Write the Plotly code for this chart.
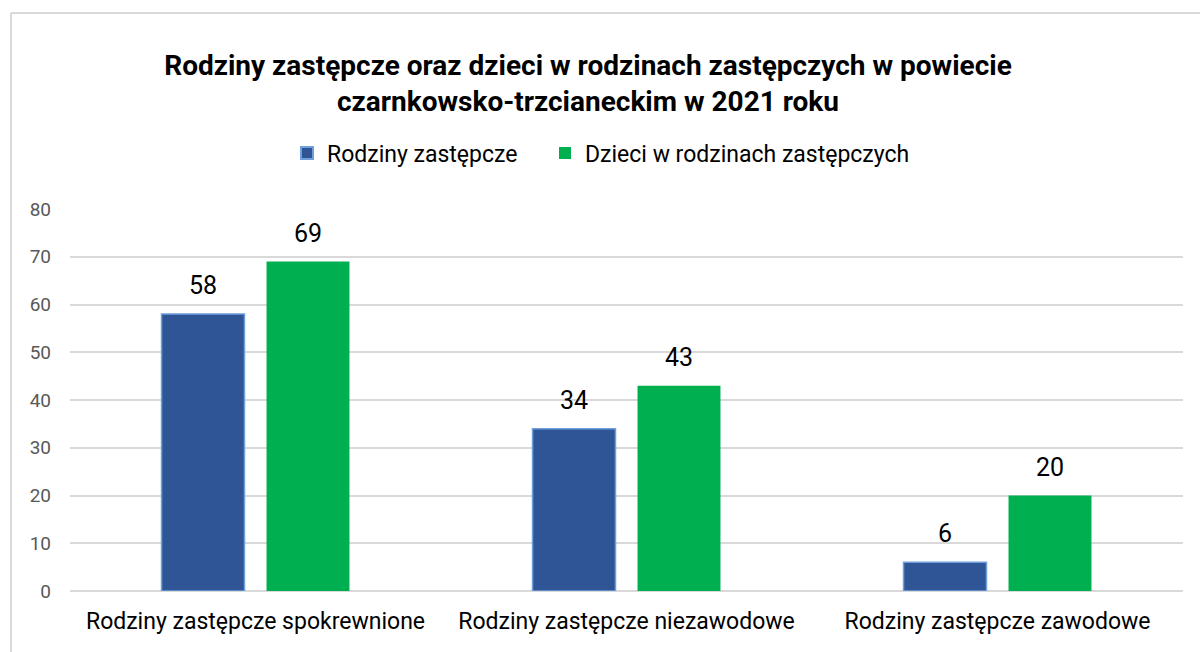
import plotly.graph_objects as go

categories = ["Rodziny zastępcze spokrewnione", "Rodziny zastępcze niezawodowe", "Rodziny zastępcze zawodowe"]
rodziny = [58, 34, 6]
dzieci = [69, 43, 20]
series_names = ["Rodziny zastępcze", "Dzieci w rodzinach zastępczych"]
title_text = "<b>Rodziny zastępcze oraz dzieci w rodzinach zastępczych w powiecie<br>czarnkowsko-trzcianeckim w 2021 roku</b>"

W, H = 1200, 652
L, R, T, B = 70, 17, 209, 61
pw, ph = W - L - R, H - T - B

def px_x(p):
    return (p - L) / pw

def px_y(p):
    return (H - B - p) / ph

fig = go.Figure()
fig.add_trace(go.Bar(x=categories, y=rodziny, name=series_names[0], legend="legend",
                     marker=dict(color="#2F5597", line=dict(color="#6FA0DC", width=1.5))))
fig.add_trace(go.Bar(x=categories, y=dzieci, name=series_names[1], legend="legend2",
                     marker=dict(color="#00B050", line=dict(color="#00B050", width=0))))

font_main = "Roboto"
ann = []
for c, a, b in zip(categories, rodziny, dzieci):
    for val, sh in ((a, -52.5), (b, 52.5)):
        ann.append(dict(x=c, y=val, xref="x", yref="y", text=str(val), showarrow=False,
                        xshift=sh, yanchor="bottom", yshift=12,
                        font=dict(family=font_main, size=25, color="#000000")))

shapes = [
    dict(type="line", xref="paper", yref="paper", x0=px_x(11), x1=px_x(11), y0=px_y(H + 5), y1=px_y(13),
         line=dict(color="#D9D9D9", width=2)),
    dict(type="line", xref="paper", yref="paper", x0=px_x(11), x1=px_x(W + 5), y0=px_y(13), y1=px_y(13),
         line=dict(color="#D9D9D9", width=2)),
]

leg_common = dict(orientation="h", xanchor="left", y=px_y(153), yanchor="middle",
                  font=dict(family=font_main, size=23, color="#000000"), itemsizing="constant")

fig.update_layout(
    width=W, height=H,
    margin=dict(l=L, r=R, t=T, b=B, autoexpand=False),
    paper_bgcolor="white", plot_bgcolor="white",
    barmode="group", bargap=0.434, bargroupgap=0.21,
    title=dict(text=title_text, x=0.49, xanchor="center", y=1 - 75 / H, yanchor="middle",
               font=dict(family=font_main, size=28, color="#000000")),
    legend=dict(x=px_x(287), **leg_common),
    legend2=dict(x=px_x(545), **leg_common),
    showlegend=True,
    annotations=ann,
    shapes=shapes,
    font=dict(family=font_main),
)
fig.update_xaxes(showgrid=False, showline=False, ticks="", tickfont=dict(family=font_main, size=23, color="#000000"),
                 ticklabelstandoff=14)
fig.update_yaxes(range=[0, 80], dtick=10, showgrid=True, gridcolor="#D9D9D9", gridwidth=1.5,
                 zeroline=True, zerolinecolor="#D9D9D9", zerolinewidth=1.5, showline=False,
                 tickfont=dict(family=font_main, size=19, color="#595959"), ticklabelstandoff=18)

fig.write_html("out.html", config={"displayModeBar": False},
               post_script="document.body.style.margin='0px';document.body.style.overflow='hidden';")
